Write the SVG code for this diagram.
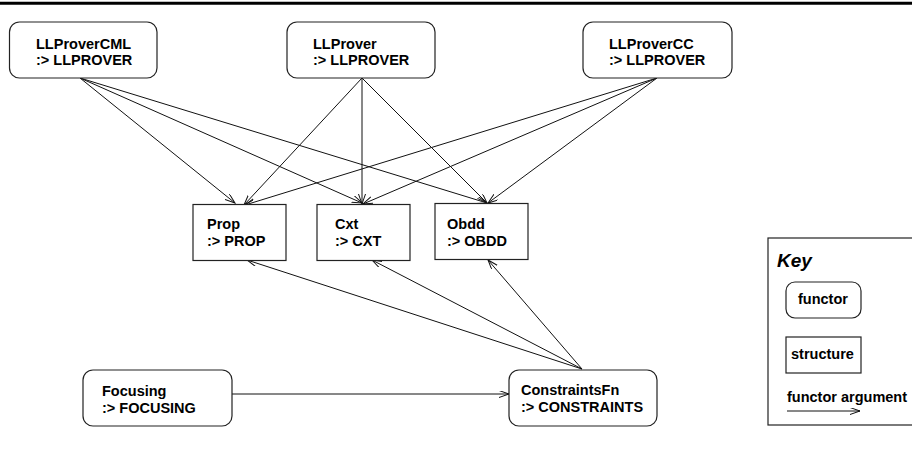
<svg xmlns="http://www.w3.org/2000/svg" width="912" height="461" viewBox="0 0 912 461">
<style>
.box{fill:#fff;stroke:#222;stroke-width:1.2}
.t{font-family:"Liberation Sans",Arial,sans-serif;font-weight:bold;font-size:14.5px;fill:#000}
.e{fill:none;stroke:#111;stroke-width:1;marker-end:url(#arr)}
</style>
<defs>
<marker id="arr" markerUnits="userSpaceOnUse" markerWidth="12" markerHeight="8" refX="10" refY="3.5" orient="auto">
<path d="M0,0 L10,3.5 L0,7" fill="none" stroke="#111" stroke-width="1"/>
</marker>
</defs>
<rect width="912" height="461" fill="#fff"/>
<line x1="0" y1="3.3" x2="912" y2="3.3" stroke="#000" stroke-width="3"/>
<g id="connectors">
<line class="e" x1="80" y1="78" x2="235" y2="203"/>
<line class="e" x1="80" y1="78" x2="362" y2="203"/>
<line class="e" x1="80" y1="78" x2="487" y2="203"/>
<line class="e" x1="362" y1="78" x2="244" y2="205"/>
<line class="e" x1="362" y1="78" x2="362" y2="204"/>
<line class="e" x1="362" y1="78" x2="487" y2="203"/>
<line class="e" x1="657" y1="78" x2="245" y2="205"/>
<line class="e" x1="657" y1="78" x2="363" y2="204"/>
<line class="e" x1="657" y1="78" x2="488" y2="203"/>
<line class="e" x1="582" y1="369" x2="247" y2="260"/>
<line class="e" x1="582" y1="369" x2="372" y2="260"/>
<line class="e" x1="582" y1="369" x2="488" y2="260"/>
<line class="e" x1="232" y1="394" x2="509" y2="394"/>
</g>
<g id="LLProverCML">
<rect class="box" x="9.5" y="22" width="147.5" height="56" rx="10"/>
<text class="t" x="36" y="49">LLProverCML</text>
<text class="t" x="36" y="65">:&gt; LLPROVER</text>
</g>
<g id="LLProver">
<rect class="box" x="287" y="22" width="148" height="56" rx="10"/>
<text class="t" x="313" y="49">LLProver</text>
<text class="t" x="313" y="65">:&gt; LLPROVER</text>
</g>
<g id="LLProverCC">
<rect class="box" x="583" y="22" width="149" height="56" rx="10"/>
<text class="t" x="609" y="49">LLProverCC</text>
<text class="t" x="609" y="65">:&gt; LLPROVER</text>
</g>
<g id="Prop">
<rect class="box" x="193" y="204.5" width="93" height="56"/>
<text class="t" x="207" y="229">Prop</text>
<text class="t" x="207" y="246">:&gt; PROP</text>
</g>
<g id="Cxt">
<rect class="box" x="317" y="204.5" width="93" height="56"/>
<text class="t" x="335" y="229">Cxt</text>
<text class="t" x="335" y="246">:&gt; CXT</text>
</g>
<g id="Obdd">
<rect class="box" x="435" y="203.5" width="93" height="56"/>
<text class="t" x="447" y="229">Obdd</text>
<text class="t" x="447" y="246">:&gt; OBDD</text>
</g>
<g id="Focusing">
<rect class="box" x="83" y="370" width="149" height="56" rx="10"/>
<text class="t" x="102" y="396">Focusing</text>
<text class="t" x="102" y="413">:&gt; FOCUSING</text>
</g>
<g id="ConstraintsFn">
<rect class="box" x="509" y="370" width="148" height="56" rx="10"/>
<text class="t" x="521" y="395">ConstraintsFn</text>
<text class="t" x="521" y="412">:&gt; CONSTRAINTS</text>
</g>
<g id="Key">
<rect class="box" x="768" y="238" width="160" height="187"/>
<text class="t" x="777" y="267" style="font-size:19px;font-style:italic">Key</text>
<rect class="box" x="786" y="282" width="75" height="36" rx="9"/>
<text class="t" x="798" y="304">functor</text>
<rect class="box" x="786" y="337" width="75" height="36"/>
<text class="t" x="791" y="359">structure</text>
<text class="t" x="787" y="402">functor argument</text>
<line class="e" x1="787" y1="411" x2="860" y2="411"/>
</g>
</svg>
